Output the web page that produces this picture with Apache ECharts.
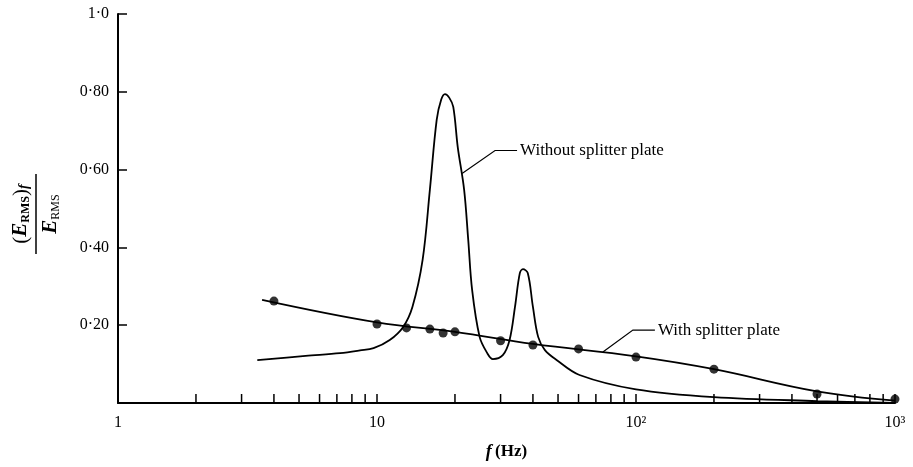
<!DOCTYPE html>
<html>
<head>
<meta charset="utf-8">
<script src="https://cdn.jsdelivr.net/npm/echarts@6/dist/echarts.min.js"></script>
<style>
  html, body { margin: 0; padding: 0; background: #fff; }
  #main { width: 913px; height: 467px; }
</style>
</head>
<body>
<div id="main"></div>
<script>
// data
const withoutF = [3.45, 5.3, 7.2, 8.6, 9.7, 11.2, 12.6, 13.7, 15.0, 16.0, 17.0, 17.7, 18.3, 19.0, 19.7, 20.5, 21.7, 22.5, 23.3, 24.9, 26.6, 28.0, 30.6, 32.5, 34.1, 35.6, 36.6, 38.2, 40.0, 41.9, 44.5, 49.5, 60.5, 100, 200, 500, 1000];
const withoutV = [0.11, 0.121, 0.128, 0.135, 0.141, 0.162, 0.195, 0.247, 0.368, 0.548, 0.728, 0.78, 0.794, 0.785, 0.761, 0.658, 0.548, 0.42, 0.29, 0.17, 0.129, 0.113, 0.123, 0.162, 0.247, 0.334, 0.344, 0.334, 0.247, 0.17, 0.136, 0.11, 0.072, 0.035, 0.015, 0.005, 0.0];

const withDotF = [4, 10, 13, 16, 18, 20, 30, 40, 60, 100, 200, 500, 1000];
const withDotV = [0.262, 0.203, 0.193, 0.19, 0.18, 0.183, 0.16, 0.149, 0.139, 0.118, 0.087, 0.023, 0.01];

const withLineF = [3.6, 10, 20, 40, 100, 200, 500, 1000];
const withLineV = [0.265, 0.207, 0.183, 0.152, 0.12, 0.087, 0.03, 0.006];

const xMinorTicks = [2, 3, 4, 5, 6, 7, 8, 9, 10, 20, 30, 40, 50, 60, 70, 80, 90, 100, 200, 300, 400, 500, 600, 700, 800, 900, 1000];
const xLabels = { 1: "1", 10: "10", 100: "10²", 1000: "10³" };

// points on the curves where the label leaders start
const withoutAnchor = [21.3, 0.59];
const withAnchor = [74.5, 0.131];

const FONT = "Liberation Serif";

const zip = (a, b) => a.map((v, i) => [v, b[i]]);

const chart = echarts.init(document.getElementById("main"));

const option = {
  animation: false,
  backgroundColor: "#fff",
  grid: { left: 118, right: 18, top: 14, bottom: 64 },
  xAxis: {
    type: "log",
    logBase: 10,
    min: 1,
    max: 1000,
    axisLine: { lineStyle: { color: "#000", width: 2 } },
    axisTick: { show: false },
    splitLine: { show: false },
    axisLabel: {
      color: "#000",
      fontFamily: FONT,
      fontSize: 16,
      margin: 12,
      formatter: (v) => xLabels[Math.round(v)] || "",
    },
    name: "{i|f} {b|(Hz)}",
    nameLocation: "middle",
    nameGap: 40,
    nameTextStyle: {
      rich: {
        i: { fontFamily: FONT, fontStyle: "italic", fontWeight: "bold", fontSize: 18, color: "#000" },
        b: { fontFamily: FONT, fontWeight: "bold", fontSize: 17, color: "#000" },
      },
    },
  },
  yAxis: {
    type: "value",
    min: 0,
    max: 1,
    interval: 0.2,
    axisLine: { show: true, lineStyle: { color: "#000", width: 2 } },
    axisTick: { show: true, inside: true, length: 9, lineStyle: { color: "#000", width: 1.5 } },
    splitLine: { show: false },
    axisLabel: {
      color: "#000",
      fontFamily: FONT,
      fontSize: 16,
      margin: 9,
      formatter: (v) => (v === 0 ? "" : v === 1 ? "1·0" : v.toFixed(2).replace(".", "·")),
    },
  },
  series: [
    {
      name: "Without splitter plate",
      type: "line",
      data: zip(withoutF, withoutV),
      smooth: 0.35,
      showSymbol: false,
      lineStyle: { color: "#000", width: 1.8 },
      z: 3,
    },
    {
      name: "With splitter plate",
      type: "line",
      data: zip(withLineF, withLineV),
      smooth: 0.4,
      showSymbol: false,
      lineStyle: { color: "#000", width: 1.8 },
      z: 3,
    },
    {
      name: "With splitter plate points",
      type: "scatter",
      data: zip(withDotF, withDotV),
      symbol: "circle",
      symbolSize: 9,
      itemStyle: { color: "#000" },
      z: 4,
    },
    {
      name: "minor ticks",
      type: "custom",
      data: xMinorTicks.map((v) => [v, 0]),
      renderItem: (params, api) => {
        const p = api.coord([api.value(0), 0]);
        return {
          type: "line",
          shape: { x1: p[0], y1: p[1], x2: p[0], y2: p[1] - 9 },
          style: { stroke: "#000", lineWidth: 1.5 },
        };
      },
      silent: true,
      z: 5,
    },
  ],
  graphic: [
    {
      type: "group",
      x: 36,
      y: 214,
      rotation: Math.PI / 2,
      children: [
        {
          type: "text",
          x: 0,
          y: -15,
          style: {
            text: "{p|(}{e|E}{s|RMS}{p|)}{f|f}",
            align: "center",
            verticalAlign: "middle",
            rich: {
              p: { fontFamily: FONT, fontSize: 21, fill: "#000", verticalAlign: "bottom" },
              e: { fontFamily: FONT, fontSize: 21, fontStyle: "italic", fontWeight: "bold", fill: "#000", verticalAlign: "bottom" },
              s: { fontFamily: FONT, fontSize: 12, fontWeight: "bold", fill: "#000", verticalAlign: "bottom" },
              f: { fontFamily: FONT, fontSize: 14, fontStyle: "italic", fontWeight: "bold", fill: "#000", verticalAlign: "bottom" },
            },
          },
        },
        {
          type: "line",
          shape: { x1: -40, y1: 0, x2: 40, y2: 0 },
          style: { stroke: "#000", lineWidth: 1.5 },
        },
        {
          type: "text",
          x: 0,
          y: 15,
          style: {
            text: "{e|E}{s|RMS}",
            align: "center",
            verticalAlign: "middle",
            rich: {
              e: { fontFamily: FONT, fontSize: 21, fontStyle: "italic", fontWeight: "bold", fill: "#000", verticalAlign: "bottom" },
              s: { fontFamily: FONT, fontSize: 12, fill: "#000", verticalAlign: "bottom" },
            },
          },
        },
      ],
    },
  ],
};

chart.setOption(option);

// leader lines and curve labels, anchored on the data
function leader(anchor, dx, dy, run, text) {
  const a = chart.convertToPixel({ gridIndex: 0 }, anchor);
  const elbow = [a[0] + dx, a[1] + dy];
  const end = [elbow[0] + run, elbow[1]];
  return [
    {
      type: "polyline",
      shape: { points: [a, elbow, end] },
      style: { stroke: "#000", lineWidth: 1.2, fill: null },
      z: 10,
    },
    {
      type: "text",
      x: end[0] + 3,
      y: end[1],
      style: { text: text, fontFamily: FONT, fontSize: 17, fill: "#000", verticalAlign: "middle" },
      z: 10,
    },
  ];
}

chart.setOption({
  graphic: option.graphic.concat(
    leader(withoutAnchor, 33, -23, 22, "Without splitter plate"),
    leader(withAnchor, 30, -22, 22, "With splitter plate")
  ),
});

window.addEventListener("resize", () => {
  chart.resize();
});
</script>
</body>
</html>
